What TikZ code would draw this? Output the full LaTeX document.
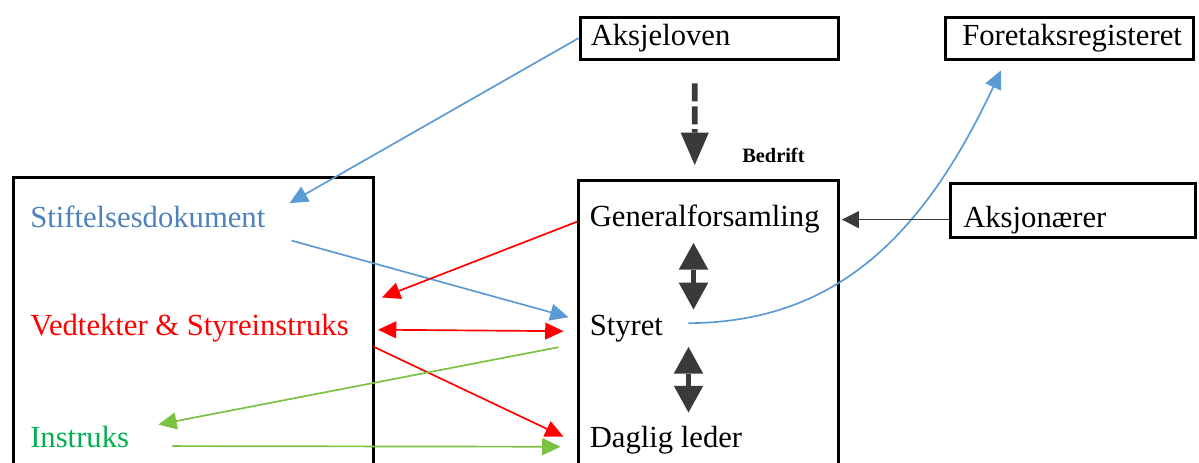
\documentclass[tikz,border=0pt]{standalone}
\usepackage{fontspec}
\setmainfont{Liberation Serif}
\usetikzlibrary{arrows.meta,positioning,calc}

\definecolor{lovblue}{HTML}{5B9BD5}
\definecolor{stiftblue}{HTML}{4F81BD}
\definecolor{instrgreen}{HTML}{00B050}
\definecolor{pilgreen}{HTML}{7CC242}
\definecolor{pilgray}{HTML}{3A3A3A}

\tikzset{
  box/.style={draw, line width=2.4pt, anchor=north west, inner sep=0pt},
  txt/.style={anchor=base west, inner sep=0pt, font=\fontsize{21.8}{26}\selectfont},
  pil/.style={line width=1.2pt, -{Triangle[length=13pt,width=12pt]}},
  pilbegge/.style={line width=1.2pt, {Triangle[length=13pt,width=12pt]}-{Triangle[length=13pt,width=12pt]}},
  dobbel/.style={line width=3.5pt, pilgray,
    {Triangle[length=19pt,width=21pt,line width=0pt]}-{Triangle[length=19pt,width=21pt,line width=0pt]}},
}

\begin{document}
\begin{tikzpicture}[x=0.025cm, y=-0.025cm]
  \clip (0,0) rectangle (1199,462);

  % boxes
  \node[box, minimum width=6.45cm, minimum height=1.05cm] (lovbox) at (578.5,15.5) {};
  \node[box, minimum width=6.2cm, minimum height=1.05cm] (regbox) at (943.5,15.5) {};
  \node[box, minimum width=6.125cm, minimum height=1.35cm] (eierbox) at (948.5,181.5) {};
  \node[box, minimum width=9cm, minimum height=8cm] (dokbox) at (11.5,176) {};
  \node[box, minimum width=6.5cm, minimum height=8cm] (bedriftbox) at (576.5,178.5) {};

  % texts
  \node[txt] (aksjeloven) at (590.5,45) {Aksjeloven};
  \node[txt] (foretak) at (962,45) {Foretaksregisteret};
  \node[txt, font=\bfseries\fontsize{14.5}{17}\selectfont] (bedrift) at (742,162) {Bedrift};
  \node[txt] (aksjonaer) at (963,227) {Aksjonærer};

  \node[txt, stiftblue] (stift) at (30,227) {Stiftelsesdokument};
  \node[txt, red, below=2.7cm of stift.base west, anchor=base west] (vedt) {Vedtekter \& Styreinstruks};
  \node[txt, instrgreen, below=2.8cm of vedt.base west, anchor=base west] (instr) {Instruks};

  \node[txt] (genf) at (589.5,226) {Generalforsamling};
  \node[txt, below=2.725cm of genf.base west, anchor=base west] (styret) {Styret};
  \node[txt, below=2.8cm of styret.base west, anchor=base west] (daglig) {Daglig leder};

  % connectors
  \draw[line width=4.2pt, pilgray, dash pattern=on 12.8pt off 3.5pt,
    -{Triangle[length=23pt,width=20pt,line width=0pt]}]
    ($(lovbox.south)+(-14.5,22.5)$) -- ($(bedriftbox.north)+(-13.5,-13.5)$);
  \draw[pil, lovblue] (lovbox.west) -- ($(stift.north east)+(24,-2)$);
  \draw[pil, lovblue] ($(stift.south east)+(26,13)$) -- ($(styret.west)+(-21,-11)$);
  \draw[pil, red] ($(genf.west)+(-12,3)$) -- ($(vedt.north east)+(33,-16)$);
  \draw[pilbegge, red] ($(vedt.east)+(29,2)$) -- ($(styret.west)+(-26,3)$);
  \draw[pil, red] ($(vedt.south east)+(25,5)$) -- ($(daglig.west)+(-26,-3)$);
  \draw[pil, pilgreen] ($(styret.west)+(-31,19)$) -- ($(instr.north east)+(29,-1)$);
  \draw[pil, pilgreen] ($(instr.east)+(43,9.5)$) -- ($(daglig.west)+(-29,7)$);
  \draw[pil, lovblue] ($(styret.east)+(25,-5)$) .. controls +(142,-1) and +(-81,173) .. ($(regbox.south west)+(57.5,9.5)$);
  \draw[line width=0.8pt, pilgray, -{Triangle[length=12pt,width=12pt]}]
    (eierbox.west |- aksjonaer.west) -- ($(bedriftbox.east |- aksjonaer.west)+(2,0)$);
  \draw[dobbel] ($(genf.south west)+(104,10)$) -- ($(styret.north west)+(104,-5)$);
  \draw[dobbel] ($(styret.south west)+(99,5)$) -- ($(daglig.north west)+(99,-13)$);
\end{tikzpicture}
\end{document}
